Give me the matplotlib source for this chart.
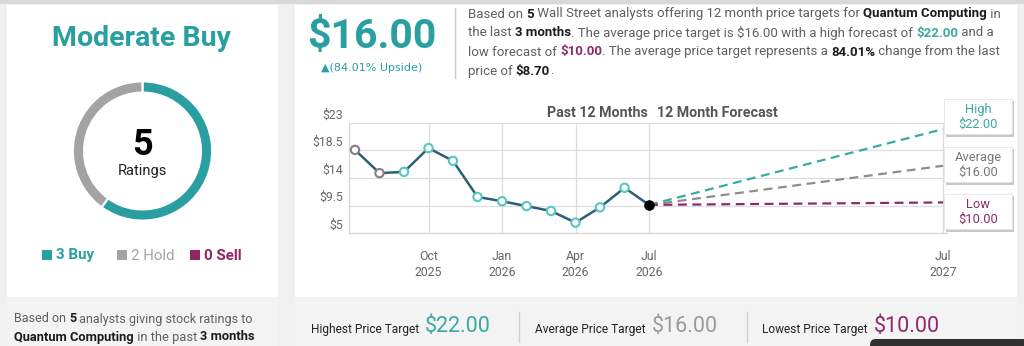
import matplotlib
matplotlib.use("Agg")
import matplotlib.pyplot as plt
from matplotlib.patches import Rectangle, FancyBboxPatch
from matplotlib.transforms import ScaledTranslation

# ---- data ----
rating_labels = ["Buy", "Hold", "Sell"]
rating_counts = [3, 2, 0]
rating_colors = ["#2a9fa1", "#a3a3a3", "#8e2665"]

month_labels = ["Jul\n2025", "Aug\n2025", "Sep\n2025", "Oct\n2025", "Nov\n2025", "Dec\n2025",
                "Jan\n2026", "Feb\n2026", "Mar\n2026", "Apr\n2026", "May\n2026", "Jun\n2026",
                "Jul\n2026"]
past_prices = [18.6, 14.8, 15.0, 18.9, 16.8, 10.9, 10.2, 9.4, 8.6, 6.7, 9.2, 12.4, 9.6]
forecast_names = ["High", "Average", "Low"]
forecast_values = [22.00, 16.00, 10.00]
forecast_colors = ["#3aa9a3", "#8d8d8d", "#8e2a6c"]
forecast_label = "Jul\n2027"
tick_months = [3, 6, 9, 12, 24]
y_ticks = [5, 9.5, 14, 18.5, 23]
y_tick_labels = ["$5", "$9.5", "$14", "$18.5", "$23"]

W, H = 1024, 346
fig = plt.figure(figsize=(W / 100, H / 100), dpi=100)
fig.patch.set_facecolor("#f1f1f1")
FONT = ["Roboto", "DejaVu Sans"]
plt.rcParams["font.family"] = FONT


def fx(x):
    return x / W


def fy(y):
    return 1 - y / H


# background layer (pixel coords, y down)
bg = fig.add_axes([0, 0, 1, 1])
bg.set_zorder(0)
bg.set_xlim(0, W)
bg.set_ylim(H, 0)
bg.axis("off")

# overlay layer for the value boxes on the chart's right edge
top_ax = fig.add_axes([0, 0, 1, 1])
top_ax.set_zorder(10)
top_ax.set_xlim(0, W)
top_ax.set_ylim(H, 0)
top_ax.axis("off")
top_ax.patch.set_alpha(0)


def box(a, x0, y0, x1, y1, color, z=1):
    a.add_patch(Rectangle((x0, y0), x1 - x0, y1 - y0, facecolor=color,
                          edgecolor="none", zorder=z))


box(bg, 0, 0, W, 4, "#d9d9d9")
box(bg, 7, 5, 278, 297, "white")
box(bg, 7, 297, 278, 346, "#f3f3f3")
box(bg, 295, 5, 1017, 297, "white")
box(bg, 295, 297, 1017, 346, "#f3f3f3")

renderer = fig.canvas.get_renderer()


def text_w(s, **kw):
    t = bg.text(0, 0, s, **kw)
    w = t.get_window_extent(renderer).width
    t.remove()
    return w


def runs(x, y, parts, size, family=FONT):
    for s, bold, color in parts:
        kw = dict(fontsize=size, family=family,
                  fontweight="bold" if bold else "normal")
        bg.text(x, y, s, color=color, va="center", ha="left", **kw)
        x += text_w("|" + s + "|", **kw) - text_w("||", **kw)
    return x


GRAY = "#5f5f5f"
BLACK = "#1c1c1c"

# ---- left panel ----
bg.text(142, 38, "Moderate Buy", fontsize=20.5, fontweight="bold",
        color=rating_colors[0], ha="center", va="center")

dax = fig.add_axes([fx(71.5), fy(222), fx(142), 142 / H])
dax.set_zorder(2)
vals = [v for v in rating_counts if v > 0]
cols = [c for v, c in zip(rating_counts, rating_colors) if v > 0]
dax.pie(vals, colors=cols, startangle=90, counterclock=False, radius=1,
        wedgeprops=dict(width=0.16, edgecolor="white", linewidth=1.5))
dax.set_xlim(-1.02, 1.02)
dax.set_ylim(-1.02, 1.02)
dax.set_aspect("equal")
dax.axis("off")
top_ax.text(142.5, 145, str(sum(rating_counts)), fontsize=26, fontweight="bold",
            color="black", ha="center", va="center")
top_ax.text(142.5, 171, "Ratings", fontsize=10.5, color="#222222",
            ha="center", va="center")

leg_x = [42, 117, 190]
for lx, n, name, c in zip(leg_x, rating_counts, rating_labels, rating_colors):
    box(bg, lx, 250, lx + 10, 260, c, z=2)
    bg.text(lx + 14, 255.5, f"{n} {name}", fontsize=10.8,
            fontweight="normal" if name == "Hold" else "bold",
            color=c, ha="left", va="center")

runs(14, 319, [("Based on ", False, GRAY), ("5", True, BLACK),
               (" analysts giving stock ratings to", False, GRAY)], 9)
runs(14, 337, [("Quantum Computing", True, BLACK), (" in the past ", False, GRAY),
               ("3 months", True, BLACK)], 9.3)

# ---- right header ----
bg.text(372, 37, "$16.00", fontsize=29.5, fontweight="bold",
        color=rating_colors[0], ha="center", va="center")
bg.text(372, 68, "\u25b2(84.01% Upside)", fontsize=8, color=rating_colors[0],
        ha="center", va="center", family=["DejaVu Sans"])
bg.plot([455, 455], [8, 78], color="#cccccc", lw=1)

PS = 9.5
runs(468, 14, [("Based on ", False, GRAY), ("5", True, BLACK),
               (" Wall Street analysts offering 12 month price targets for ", False, GRAY),
               ("Quantum Computing", True, BLACK), (" in", False, GRAY)], PS)
runs(468, 33, [("the last ", False, GRAY), ("3 months", True, BLACK),
               (". The average price target is $16.00 with a high forecast of ", False, GRAY),
               ("$22.00", True, forecast_colors[0]), (" and a", False, GRAY)], PS)
runs(468, 52, [("low forecast of ", False, GRAY), ("$10.00", True, forecast_colors[2]),
               (". The average price target represents a ", False, GRAY),
               ("84.01%", True, BLACK), (" change from the last", False, GRAY)], PS)
runs(468, 71, [("price of ", False, GRAY), ("$8.70", True, BLACK), (".", False, GRAY)], PS)

# ---- chart ----
ax = fig.add_axes([fx(349), fy(233), fx(947) - fx(349), (233 - 123) / H])
ax.set_zorder(3)
ax.set_facecolor("white")
xs = list(range(len(past_prices)))
last_x = xs[-1]
end_x = last_x + 12
for val, c in zip(forecast_values, forecast_colors):
    ax.plot([last_x, end_x], [past_prices[-1], val], color=c, lw=1.6,
            dashes=(4, 2.5), zorder=2)
ax.plot(xs, past_prices, color="#2d5f78", lw=1.8, zorder=3)
edge = ["#8a7b85" if i < 2 else "#58c6c4" for i in range(len(xs) - 1)]
ax.scatter(xs[:-1], past_prices[:-1], s=36, facecolor="white", edgecolor=edge,
           linewidths=1.5, zorder=4)
ax.scatter([last_x], [past_prices[-1]], s=44, color="black", zorder=5)

ax.set_xlim(-0.245, 24.16)
ax.set_ylim(5, 23)
ax.set_yticks(y_ticks)
ax.set_yticklabels(y_tick_labels)
ax.set_xticks(tick_months)
ax.set_xticklabels([month_labels[m] for m in tick_months[:-1]] + [forecast_label])
ax.tick_params(length=0, labelsize=8.8, labelcolor="#666666")
ax.tick_params(axis="y", pad=4.5)
ax.tick_params(axis="x", pad=12)
for lab in ax.get_yticklabels():
    lab.set_transform(lab.get_transform() + ScaledTranslation(0, 0.095, fig.dpi_scale_trans))
for lab in ax.get_xticklabels():
    lab.set_linespacing(1.35)
ax.grid(True, color="#dddddd", lw=0.9)
for side, sp in ax.spines.items():
    sp.set_color("#d4d4d4")
    sp.set_linewidth(0.9)
ax.spines["top"].set_visible(False)
ax.spines["right"].set_visible(False)

bg.text(648, 113, "Past 12 Months", fontsize=10.3, fontweight="bold",
        color="#555555", ha="right", va="center")
bg.text(657, 113, "12 Month Forecast", fontsize=10.3, fontweight="bold",
        color="#555555", ha="left", va="center")

box_tops = [99, 147, 194]
for top, name, val, c in zip(box_tops, forecast_names, forecast_values, forecast_colors):
    box(top_ax, 946, top + 2, 1014, top + 38, "#c8c8c8", z=1)
    box(top_ax, 944, top, 1012, top + 35, "white", z=2)
    top_ax.add_patch(Rectangle((944, top), 68, 35, facecolor="none",
                               edgecolor="#e6e6e6", lw=0.6, zorder=3))
    tc = "#777777" if name == "Average" else c
    top_ax.text(978, top + 10, name, fontsize=9.3, color=tc, ha="center",
                va="center", zorder=4)
    top_ax.text(978, top + 25, f"${val:.2f}", fontsize=9.3, color=tc,
                ha="center", va="center", zorder=4)

# ---- footer ----
foot_x = [311, 535, 762]
foot_names = ["Highest Price Target", "Average Price Target", "Lowest Price Target"]
for x0, name, val, c in zip(foot_x, foot_names, forecast_values, forecast_colors):
    xe = runs(x0, 329, [(name, False, "#222222")], 8.6)
    runs(xe + 6, 326, [(f"${val:.2f}", False, "#9a9a9a" if c == "#8d8d8d" else c)], 15.5)
for sx in [519, 747]:
    bg.plot([sx, sx], [312, 342], color="#d0d0d0", lw=1)
top_ax.add_patch(FancyBboxPatch((870, 339), 170, 14,
                                boxstyle="round,pad=0,rounding_size=6",
                                facecolor="#303030", edgecolor="none", zorder=5))

fig.savefig("out.png", dpi=100, facecolor=fig.get_facecolor())
